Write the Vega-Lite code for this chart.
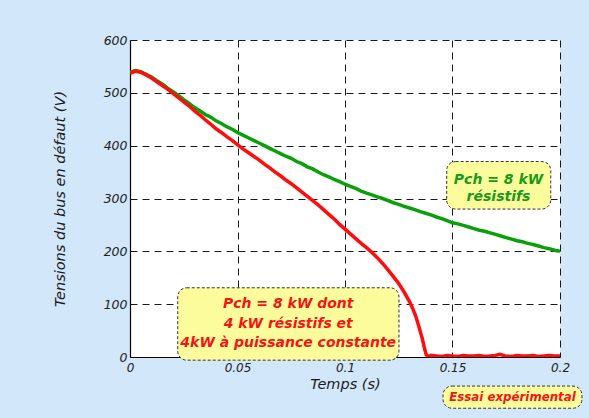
{
  "$schema": "https://vega.github.io/schema/vega-lite/v6.json",
  "width": 430,
  "height": 317,
  "autosize": {"type": "none"},
  "padding": {"left": 130, "top": 40, "right": 29, "bottom": 61},
  "background": "#d3e7fb",
  "config": {
    "view": {"fill": "white", "stroke": null},
    "font": "DejaVu Sans"
  },
  "datasets": {
    "green": [
      {"t":0,"v":539},{"t":0.0025,"v":542},{"t":0.005,"v":540},{"t":0.0075,"v":535},{"t":0.01,"v":530},
      {"t":0.0125,"v":523},{"t":0.015,"v":517},{"t":0.0175,"v":509},{"t":0.02,"v":502},{"t":0.0225,"v":495},
      {"t":0.025,"v":487},{"t":0.0275,"v":480},{"t":0.03,"v":472},{"t":0.0325,"v":466},{"t":0.035,"v":459},
      {"t":0.0375,"v":454},{"t":0.04,"v":447},{"t":0.0425,"v":442},{"t":0.045,"v":436},{"t":0.0475,"v":431},
      {"t":0.05,"v":425},{"t":0.0525,"v":420},{"t":0.055,"v":415},{"t":0.0575,"v":410},{"t":0.06,"v":405},
      {"t":0.0625,"v":400},{"t":0.065,"v":395},{"t":0.0675,"v":390},{"t":0.07,"v":385},{"t":0.0725,"v":380},
      {"t":0.075,"v":376},{"t":0.0775,"v":370},{"t":0.08,"v":366},{"t":0.0825,"v":360},{"t":0.085,"v":356},
      {"t":0.0875,"v":350},{"t":0.09,"v":345},{"t":0.0925,"v":341},{"t":0.095,"v":336},{"t":0.0975,"v":332},
      {"t":0.1,"v":327},{"t":0.1025,"v":323},{"t":0.105,"v":319},{"t":0.1075,"v":314},{"t":0.11,"v":310},
      {"t":0.1125,"v":307},{"t":0.115,"v":303},{"t":0.1175,"v":300},{"t":0.12,"v":296},{"t":0.1225,"v":292},
      {"t":0.125,"v":289},{"t":0.1275,"v":285},{"t":0.13,"v":282},{"t":0.1325,"v":279},{"t":0.135,"v":275},
      {"t":0.1375,"v":272},{"t":0.14,"v":269},{"t":0.1425,"v":265},{"t":0.145,"v":262},{"t":0.1475,"v":258},
      {"t":0.15,"v":254},{"t":0.1525,"v":252},{"t":0.155,"v":249},{"t":0.1575,"v":246},{"t":0.16,"v":243},
      {"t":0.1625,"v":240},{"t":0.165,"v":238},{"t":0.1675,"v":235},{"t":0.17,"v":232},{"t":0.1725,"v":229},
      {"t":0.175,"v":226},{"t":0.1775,"v":223},{"t":0.18,"v":220},{"t":0.1825,"v":218},{"t":0.185,"v":215},
      {"t":0.1875,"v":213},{"t":0.19,"v":210},{"t":0.1925,"v":207},{"t":0.195,"v":205},{"t":0.1975,"v":202},
      {"t":0.2,"v":200}
    ],
    "red": [
      {"t":0,"v":537},{"t":0.0025,"v":541},{"t":0.005,"v":539},{"t":0.0075,"v":534},{"t":0.01,"v":528},
      {"t":0.0125,"v":521},{"t":0.015,"v":514},{"t":0.0175,"v":507},{"t":0.02,"v":499},{"t":0.0225,"v":491},
      {"t":0.025,"v":483},{"t":0.0275,"v":475},{"t":0.03,"v":466},{"t":0.0325,"v":458},{"t":0.035,"v":449},
      {"t":0.0375,"v":441},{"t":0.04,"v":432},{"t":0.0425,"v":425},{"t":0.045,"v":417},{"t":0.0475,"v":410},
      {"t":0.05,"v":402},{"t":0.0525,"v":394},{"t":0.055,"v":387},{"t":0.0575,"v":380},{"t":0.06,"v":373},
      {"t":0.0625,"v":365},{"t":0.065,"v":358},{"t":0.0675,"v":350},{"t":0.07,"v":343},{"t":0.0725,"v":335},
      {"t":0.075,"v":328},{"t":0.0775,"v":320},{"t":0.08,"v":312},{"t":0.0825,"v":304},{"t":0.085,"v":296},
      {"t":0.0875,"v":288},{"t":0.09,"v":279},{"t":0.0925,"v":270},{"t":0.095,"v":261},{"t":0.0975,"v":251},
      {"t":0.1,"v":242},{"t":0.1025,"v":233},{"t":0.105,"v":224},{"t":0.1075,"v":215},{"t":0.11,"v":207},
      {"t":0.1125,"v":198},{"t":0.115,"v":188},{"t":0.1175,"v":177},{"t":0.12,"v":165},{"t":0.1225,"v":152},
      {"t":0.125,"v":139},{"t":0.1275,"v":123},{"t":0.13,"v":105},{"t":0.1315,"v":92},{"t":0.133,"v":76},
      {"t":0.1345,"v":56},{"t":0.136,"v":34},{"t":0.137,"v":16},{"t":0.1378,"v":4},{"t":0.139,"v":1},
      {"t":0.14,"v":3},{"t":0.1425,"v":2},{"t":0.145,"v":1},{"t":0.1475,"v":3},{"t":0.15,"v":2},
      {"t":0.1525,"v":1},{"t":0.155,"v":3},{"t":0.1575,"v":2},{"t":0.16,"v":2},{"t":0.1625,"v":3},
      {"t":0.165,"v":1},{"t":0.1675,"v":2},{"t":0.17,"v":3},{"t":0.172,"v":5},{"t":0.1745,"v":2},
      {"t":0.1775,"v":1},{"t":0.18,"v":3},{"t":0.1825,"v":2},{"t":0.185,"v":2},{"t":0.1875,"v":3},
      {"t":0.19,"v":1},{"t":0.1925,"v":2},{"t":0.195,"v":3},{"t":0.1975,"v":2},{"t":0.2,"v":2}
    ],
    "boxes": [
      {"id":"red","t1":0.0222,"t2":0.1251,"v1":131,"v2":-6},
      {"id":"green","t1":0.1473,"t2":0.1957,"v1":370,"v2":280},
      {"id":"essai","t1":0.1456,"t2":0.2102,"v1":-55,"v2":-97}
    ],
    "labels": [
      {"id":"red","t":0.0736,"v":100,"txt":"Pch = 8 kW dont"},
      {"id":"red","t":0.0736,"v":62.5,"txt":"4 kW résistifs et"},
      {"id":"red","t":0.0736,"v":26,"txt":"4kW à puissance constante"},
      {"id":"green","t":0.1714,"v":335,"txt":"Pch = 8 kW"},
      {"id":"green","t":0.1714,"v":302,"txt":"résistifs"}
    ],
    "essai": [
      {"t":0.1779,"v":-76,"txt":"Essai expérimental"}
    ]
  },
  "encoding": {
    "x": {
      "field": "t", "type": "quantitative",
      "scale": {"domain": [0, 0.2], "nice": false, "zero": false},
      "axis": {
        "values": [0, 0.05, 0.1, 0.15, 0.2], "format": "~g",
        "title": "Temps (s)", "titleFont": "DejaVu Sans", "titleFontStyle": "italic", "titleFontWeight": "normal",
        "titleFontSize": 14.5, "titleColor": "#1a1a1a", "titlePadding": 4,
        "labelFont": "DejaVu Sans", "labelFontStyle": "italic", "labelFontSize": 12, "labelColor": "#222",
        "labelPadding": 5, "ticks": false, "domainColor": "#000", "domainWidth": 1.2,
        "grid": true, "gridColor": "#000", "gridDash": [7, 5], "gridWidth": 1, "gridOpacity": 0.9,
        "labelFlush": false
      }
    },
    "y": {
      "field": "v", "type": "quantitative",
      "scale": {"domain": [0, 600], "nice": false},
      "axis": {
        "values": [0, 100, 200, 300, 400, 500, 600],
        "title": "Tensions du bus en défaut (V)", "titleFont": "DejaVu Sans", "titleFontStyle": "italic", "titleFontWeight": "normal",
        "titleFontSize": 14.5, "titleColor": "#1a1a1a", "titlePadding": 36,
        "labelFont": "DejaVu Sans", "labelFontStyle": "italic", "labelFontSize": 12.5, "labelColor": "#222",
        "labelPadding": 3, "ticks": false, "domainColor": "#000", "domainWidth": 1.2,
        "grid": true, "gridColor": "#000", "gridDash": [7, 5], "gridWidth": 1, "gridOpacity": 0.9,
        "labelFlush": false
      }
    }
  },
  "layer": [
    {
      "data": {"name": "green"},
      "mark": {"type": "line", "color": "#0aa00a", "strokeWidth": 3.5, "clip": true},
      "encoding": {}
    },
    {
      "data": {"name": "red"},
      "mark": {"type": "line", "color": "#ff0d0d", "strokeWidth": 3.5, "clip": true},
      "encoding": {}
    },
    {
      "data": {"name": "boxes"},
      "mark": {"type": "rect", "fill": "#fdfc9c", "stroke": "#333", "strokeDash": [3, 2], "strokeWidth": 1, "cornerRadius": 9},
      "encoding": {
        "x": {"field": "t1", "type": "quantitative"},
        "x2": {"field": "t2"},
        "y": {"field": "v1", "type": "quantitative"},
        "y2": {"field": "v2"}
      }
    },
    {
      "data": {"name": "labels"},
      "mark": {"type": "text", "font": "DejaVu Sans", "fontStyle": "italic", "fontWeight": "bold", "fontSize": 14, "baseline": "middle", "align": "center"},
      "encoding": {
        "text": {"field": "txt"},
        "color": {"field": "id", "type": "nominal", "scale": {"domain": ["red", "green"], "range": ["#f51515", "#1a9a1a"]}, "legend": null}
      }
    },
    {
      "data": {"name": "essai"},
      "mark": {"type": "text", "font": "DejaVu Sans", "fontStyle": "italic", "fontWeight": "bold", "fontSize": 11.8, "baseline": "middle", "align": "center", "color": "#f51515"},
      "encoding": {
        "text": {"field": "txt"}
      }
    }
  ]
}
